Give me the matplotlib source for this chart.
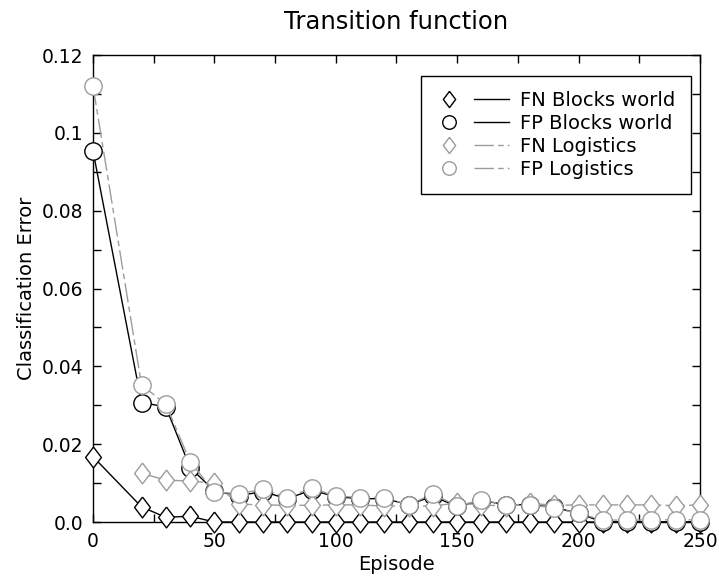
import numpy as np
import matplotlib
matplotlib.use("Agg")
import matplotlib.pyplot as plt
from matplotlib.lines import Line2D
from matplotlib.legend_handler import HandlerBase
from matplotlib.ticker import MultipleLocator, FixedLocator, FixedFormatter

episodes = [0, 20, 30, 40, 50, 60, 70, 80, 90, 100, 110, 120, 130, 140, 150,
            160, 170, 180, 190, 200, 210, 220, 230, 240, 250]

fn_blocks = [0.0168, 0.0039, 0.0012, 0.0015, 0.0, 0.0, 0.0, 0.0, 0.0, 0.0, 0.0, 0.0, 0.0,
             0.0, 0.0, 0.0, 0.0, 0.0, 0.0, 0.0, 0.0, 0.0, 0.0, 0.0, 0.0]
fp_blocks = [0.0954, 0.0307, 0.0296, 0.0140, 0.0080, 0.0068, 0.0078, 0.0060, 0.0082, 0.0065,
             0.0060, 0.0060, 0.0045, 0.0066, 0.0040, 0.0055, 0.0045, 0.0044, 0.0038, 0.0022,
             0.0, 0.0, 0.0, 0.0, 0.0]
fn_logistics = [np.nan, 0.0125, 0.0108, 0.0105, 0.0100, 0.0046, 0.0044, 0.0043, 0.0043, 0.0044,
                0.0044, 0.0041, 0.0041, 0.0041, 0.0049, 0.0044, 0.0041, 0.0048, 0.0043, 0.0044,
                0.0044, 0.0044, 0.0044, 0.0042, 0.0044]
fp_logistics = [0.1121, 0.0352, 0.0303, 0.0155, 0.0078, 0.0072, 0.0085, 0.0063, 0.0087, 0.0067,
                0.0063, 0.0063, 0.0044, 0.0072, 0.0041, 0.0057, 0.0044, 0.0044, 0.0036, 0.0022,
                0.0005, 0.0005, 0.0005, 0.0006, 0.0005]

labels = ["FN Blocks world", "FP Blocks world", "FN Logistics", "FP Logistics"]
ytick_vals = [0.0, 0.02, 0.04, 0.06, 0.08, 0.1, 0.12]
ytick_labels = ["0.0", "0.02", "0.04", "0.06", "0.08", "0.1", "0.12"]

plt.rcParams['font.family'] = ['DejaVu Sans']

fig = plt.figure(figsize=(7.19, 5.81), dpi=100)
ax = fig.add_axes([0.1293, 0.1015, 0.8443, 0.8038])

grey = '#9c9c9c'
diamond = [(0, 1), (0.76, 0), (0, -1), (-0.76, 0), (0, 1)]
dashdot = (14, 3, 4, 3)

common = dict(clip_on=False, mfc='white', mew=1.0, lw=1.0)
l1, = ax.plot(episodes, fn_blocks, color='black', marker=diamond, ms=15, ls='-', label=labels[0], zorder=3, **common)
l2, = ax.plot(episodes, fp_blocks, color='black', marker='o', ms=12.5, ls='-', label=labels[1], zorder=3, **common)
l3, = ax.plot(episodes, fn_logistics, color=grey, marker=diamond, ms=15, dashes=dashdot, label=labels[2], zorder=4, **common)
l4, = ax.plot(episodes, fp_logistics, color=grey, marker='o', ms=12.5, dashes=dashdot, label=labels[3], zorder=5, **common)

ax.set_xlim(0, 250)
ax.set_ylim(0, 0.12)
ax.xaxis.set_major_locator(MultipleLocator(50))
ax.xaxis.set_minor_locator(MultipleLocator(25))
ax.yaxis.set_major_locator(FixedLocator(ytick_vals))
ax.yaxis.set_major_formatter(FixedFormatter(ytick_labels))
ax.yaxis.set_minor_locator(MultipleLocator(0.01))
ax.tick_params(which='both', direction='in', top=True, right=True, length=5.8, width=1.0, labelsize=13.5, pad=7)
for s in ax.spines.values():
    s.set_linewidth(1.0)

ax.set_xlabel("Episode", fontsize=14, labelpad=3)
ax.set_ylabel("Classification Error", fontsize=14, labelpad=4)
ax.set_title("Transition function", fontsize=17.5, pad=19)


class MarkerThenLine(HandlerBase):
    def create_artists(self, legend, orig_handle, xdescent, ydescent, width, height, fontsize, trans):
        y = height / 2.0 - ydescent
        x0 = -xdescent
        mk = Line2D([x0 + width * 0.18], [y], marker=orig_handle.get_marker(), ls='none',
                    color=orig_handle.get_color(), mfc='white', mew=1.0,
                    ms=orig_handle.get_markersize() * 0.78)
        ln = Line2D([x0 + width * 0.52, x0 + width], [y, y], color=orig_handle.get_color(), lw=1.0)
        if orig_handle.get_color() != 'black':
            ln.set_dashes((14, 3, 4, 3))
        mk.set_transform(trans)
        ln.set_transform(trans)
        return [mk, ln]


leg = ax.legend(handles=[l1, l2, l3, l4], loc='upper right', bbox_to_anchor=(0.985, 0.955),
                handler_map={Line2D: MarkerThenLine()}, fontsize=14, handlelength=3.78,
                handletextpad=0.57, labelspacing=0.2, borderpad=0.78, fancybox=False,
                framealpha=1.0, edgecolor='black', borderaxespad=0.0)
leg.get_frame().set_linewidth(1.0)

fig.savefig("out.png", dpi=100)
